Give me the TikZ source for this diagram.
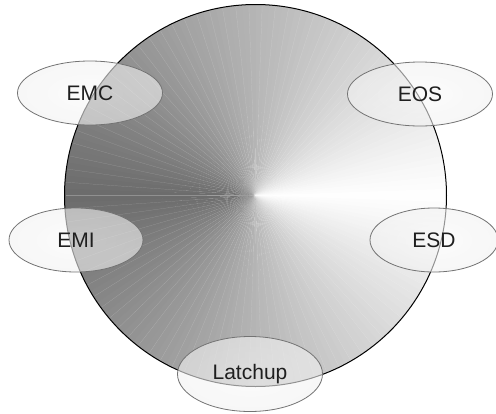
\documentclass[tikz,border=0pt]{standalone}
\usepackage{fontspec}
\setmainfont{Liberation Sans}
\usetikzlibrary{shapes.geometric}
% light middle, darker rim for the bubbles
\pgfdeclareradialshading{bubble}{\pgfpoint{0bp}{0bp}}{%
color(0bp)=(gray!5); color(32bp)=(gray!12); color(42bp)=(gray!28); color(50bp)=(gray!48)}
\tikzset{x=1pt, y=-1pt, % work in pixels, y pointing down
every node/.style={ % Labels
font=\fontsize{21}{25}\selectfont,
text=black!88},
issue/.style={ % Semi-transparent bubble round the disk
ellipse, draw=black!55, line width=0.8pt,
shade, shading=bubble, fill opacity=0.6, text opacity=1,
inner sep=0pt},
wedge/.style={ % One slice of the conical shading
line width=0.2pt}}

\begin{document}
\begin{tikzpicture}

    \useasboundingbox (0,0) rectangle (496,413);
    \coordinate (c) at (255.5,195.5);

    % disk: white towards the right, dark towards the left
    \foreach \a in {0,2,...,358} {
        \pgfmathsetmacro\lvl{100-58*min(\a+1,359-\a)/180}
        \fill[white!\lvl!black] (c) -- ([shift={(\a:191)}]c)
            arc[start angle=\a, end angle=\a+2.3, radius=191] -- cycle;
    }
    \foreach \a in {0,4,...,356}
        \draw[wedge, white, draw opacity=0.25] (c) -- ([shift={(\a:190)}]c);
    \node[draw, circle, line width=1pt, minimum size=382, inner sep=0pt] (disk) at (c) {};

    \node[issue, minimum width=145, minimum height=64] (emc) at (90,93) {EMC};
    \node[issue, minimum width=145, minimum height=64] (eos) at (420,94) {EOS};
    \node[issue, minimum width=134, minimum height=64] (emi) at (76,240) {EMI};
    \node[issue, minimum width=128, minimum height=64] (esd) at (434,240) {ESD};
    \node[issue, minimum width=145, minimum height=75] (latchup) at (250,374) {Latchup};

\end{tikzpicture}
\end{document}
